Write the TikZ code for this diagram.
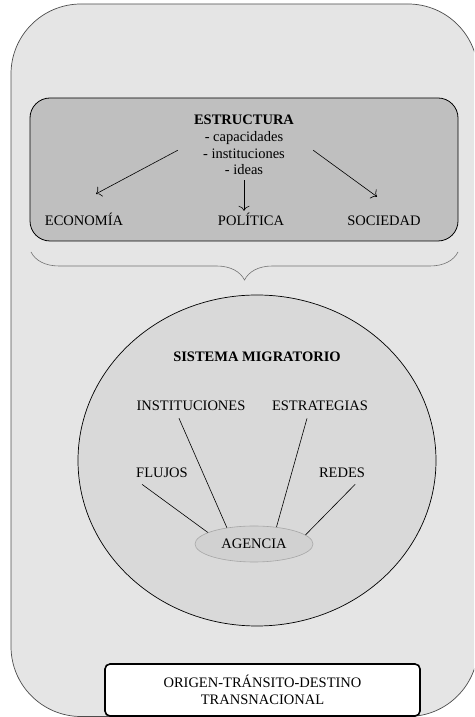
\documentclass[tikz,border=0pt]{standalone}
\usepackage{fontspec}
\setmainfont{Liberation Serif}
\usepackage{xcolor}
\usetikzlibrary{calc,arrows.meta,shapes.geometric,decorations.pathreplacing}

\definecolor{fondo}{gray}{0.90}
\definecolor{caja}{gray}{0.75}
\definecolor{sistema}{gray}{0.85}
\definecolor{agencia}{gray}{0.82}

\tikzset{
	etiqueta/.style={font=\fontsize{14.5}{16.7}\selectfont, inner sep=2pt, anchor=base},
	linea/.style={line width=0.6pt},
	flecha/.style={-{To[length=5pt,width=11pt]}, line width=0.6pt},
}

\begin{document}
\begin{tikzpicture}[x=1pt,y=1pt]

\useasboundingbox (0,0) rectangle (474,717);

% fondo general
\begin{scope}
	\clip (0,0) rectangle (474,717);
	\draw[fill=fondo, draw=black!70, line width=0.7pt, rounded corners=70] (11,0.5) rectangle (478,713);
\end{scope}

% estructura
\draw[fill=caja, draw=black, line width=0.8pt, rounded corners=20] (30,476) rectangle (458,619);

\node[etiqueta, align=center, inner sep=0pt] (estr) at (244,542) {\textbf{ESTRUCTURA}\\- capacidades\\- instituciones\\- ideas};

\node[etiqueta] (econ) at (84,491.5) {ECONOMÍA};
\node[etiqueta] (pol) at (251,491.5) {POLÍTICA};
\node[etiqueta] (soc) at (384,491.5) {SOCIEDAD};

\draw[flecha] ($(estr.west)+(-16,-5)$) -- ($(econ.north)+(12,17)$);
\draw[flecha, shorten <=5pt] (estr.south) -- (estr.south |- pol.north);
\draw[flecha] ($(estr.east)+(19,-5)$) -- ($(soc.north)+(-7,17)$);

% llave
\draw[draw=black!55, line width=0.6pt, decorate, decoration={brace, amplitude=28pt}] (458,465) -- (31,465);

% sistema migratorio
\draw[fill=sistema, draw=black, line width=0.7pt] (257,256.5) ellipse (179 and 165.5);

\node[etiqueta] (sist) at (257,355) {\textbf{SISTEMA MIGRATORIO}};

\node[etiqueta] (inst) at (191,306) {INSTITUCIONES};
\node[etiqueta] (estrat) at (320,306) {ESTRATEGIAS};
\node[etiqueta] (fluj) at (162,239) {FLUJOS};
\node[etiqueta] (red) at (342,239) {REDES};

\node[ellipse, fill=agencia, draw=black!35, line width=0.6pt, minimum width=118, minimum height=36, inner sep=0pt, font=\fontsize{14.5}{16.7}\selectfont] (ag) at (254,173) {AGENCIA};

\draw[linea] ($(fluj.south west)+(8,-4)$) -- (ag.166);
\draw[linea] ($(inst.south)+(-12,-5)$) -- (ag.149);
\draw[linea] ($(estrat.south)+(-13,-5)$) -- (ag.37);
\draw[linea] ($(red.south east)+(-12,-4)$) -- (ag.10);

% origen - destino
\node[draw=black, fill=white, line width=1.6pt, rounded corners=5, minimum width=315, minimum height=52, align=center, font=\fontsize{14.5}{17.5}\selectfont] (orig) at (262.5,27) {ORIGEN-TRÁNSITO-DESTINO\\TRANSNACIONAL};

\end{tikzpicture}
\end{document}
